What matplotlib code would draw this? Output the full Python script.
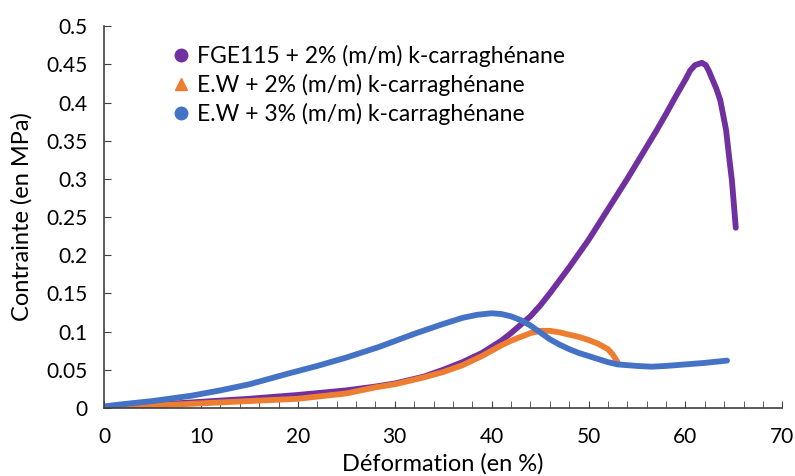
import matplotlib
matplotlib.use("Agg")
import matplotlib.pyplot as plt
from matplotlib.lines import Line2D
from matplotlib.ticker import MultipleLocator, FuncFormatter

plt.rcParams['font.family'] = ['Lato', 'DejaVu Sans']

# FGE115 + 2% k-carraghenane
x_fge = [0, 5, 10, 15, 20, 25, 28, 30, 33, 35, 37, 39, 40, 41, 42, 43, 44, 45, 46, 47, 48, 49, 50,
         52, 54, 55, 56, 57, 58, 59, 60, 60.5, 61, 61.7, 62.1, 62.4, 62.8, 63.2, 63.6, 64.2, 64.5, 64.8, 65.2]
y_fge = [0, 0.004, 0.008, 0.012, 0.017, 0.023, 0.028, 0.032, 0.041, 0.05, 0.06, 0.072, 0.08, 0.088, 0.098,
         0.109, 0.12, 0.134, 0.15, 0.167, 0.184, 0.202, 0.22,
         0.26, 0.30, 0.321, 0.342, 0.363, 0.385, 0.408, 0.43, 0.442, 0.449, 0.452, 0.449, 0.442, 0.43, 0.418,
         0.403, 0.364, 0.33, 0.298, 0.236]

# E.W + 2%
x_ew2 = [0, 5, 10, 15, 20, 25, 28, 30, 33, 35, 37, 39, 40, 41, 42, 43, 44, 45, 46, 47, 48, 49, 50, 51, 52, 52.5, 53]
y_ew2 = [0, 0.003, 0.006, 0.009, 0.012, 0.019, 0.027, 0.031, 0.04, 0.047, 0.056, 0.068, 0.075, 0.082, 0.088,
         0.093, 0.098, 0.101, 0.101, 0.099, 0.096, 0.093, 0.089, 0.084, 0.077, 0.07, 0.06]

# E.W + 3%
x_ew3 = [0, 2, 5, 9, 12, 15, 19, 22, 25, 28.4, 32, 35, 37, 38.5, 40, 41, 42, 43, 44, 45, 46, 47, 48, 49, 50,
         51, 52, 53, 55, 56.5, 58, 60, 62, 64.3]
y_ew3 = [0.002, 0.005, 0.009, 0.016, 0.023, 0.031, 0.045, 0.055, 0.066, 0.08, 0.097, 0.11, 0.118, 0.122, 0.124,
         0.123, 0.12, 0.115, 0.108, 0.099, 0.09, 0.083, 0.077, 0.072, 0.068,
         0.064, 0.06, 0.057, 0.055, 0.054, 0.055, 0.057, 0.059, 0.062]

labels = ["FGE115 + 2% (m/m) k-carraghénane",
          "E.W + 2% (m/m) k-carraghénane",
          "E.W + 3% (m/m) k-carraghénane"]
colors = ["#7030A0", "#ED7D31", "#4472C4"]

fig = plt.figure(figsize=(7.95, 4.76), dpi=100)
ax = fig.add_axes([0.131, 0.143, 0.853, 0.802])

ax.plot(x_fge, y_fge, color=colors[0], lw=4.2, solid_capstyle='round', solid_joinstyle='round')
ax.plot(x_ew2, y_ew2, color=colors[1], lw=4.2, solid_capstyle='round', solid_joinstyle='round')
ax.plot(x_ew3, y_ew3, color=colors[2], lw=4.2, solid_capstyle='round', solid_joinstyle='round')

ax.set_xlim(0, 70)
ax.set_ylim(0, 0.5)
ax.xaxis.set_major_locator(MultipleLocator(10))
ax.xaxis.set_minor_locator(MultipleLocator(2))
ax.yaxis.set_major_locator(MultipleLocator(0.05))
ax.yaxis.set_major_formatter(FuncFormatter(lambda v, p: f"{v:g}"))
ax.tick_params(axis='both', which='both', direction='in', labelsize=15, color='#404040')
ax.tick_params(axis='x', which='both', length=5, pad=14)
ax.tick_params(axis='y', which='major', length=5, pad=12)
ax.tick_params(axis='y', which='minor', left=False)

for s in ['top', 'right']:
    ax.spines[s].set_visible(False)
for s in ['left', 'bottom']:
    ax.spines[s].set_color('#404040')
    ax.spines[s].set_linewidth(1.2)

ax.set_xlabel("Déformation (en %)", fontsize=17, labelpad=4)
ax.set_ylabel("Contrainte (en MPa)", fontsize=17, labelpad=10)

handles = [Line2D([], [], ls='', marker='o', color=colors[0], ms=9),
           Line2D([], [], ls='', marker='^', color=colors[1], ms=9),
           Line2D([], [], ls='', marker='o', color=colors[2], ms=9)]
fig.legend(handles, labels, loc='upper left', bbox_to_anchor=(0.205, 0.925),
           frameon=False, fontsize=16.5, handlelength=0.8, handletextpad=0.3,
           labelspacing=0.3, borderaxespad=0)

fig.savefig("out.png", dpi=100)
